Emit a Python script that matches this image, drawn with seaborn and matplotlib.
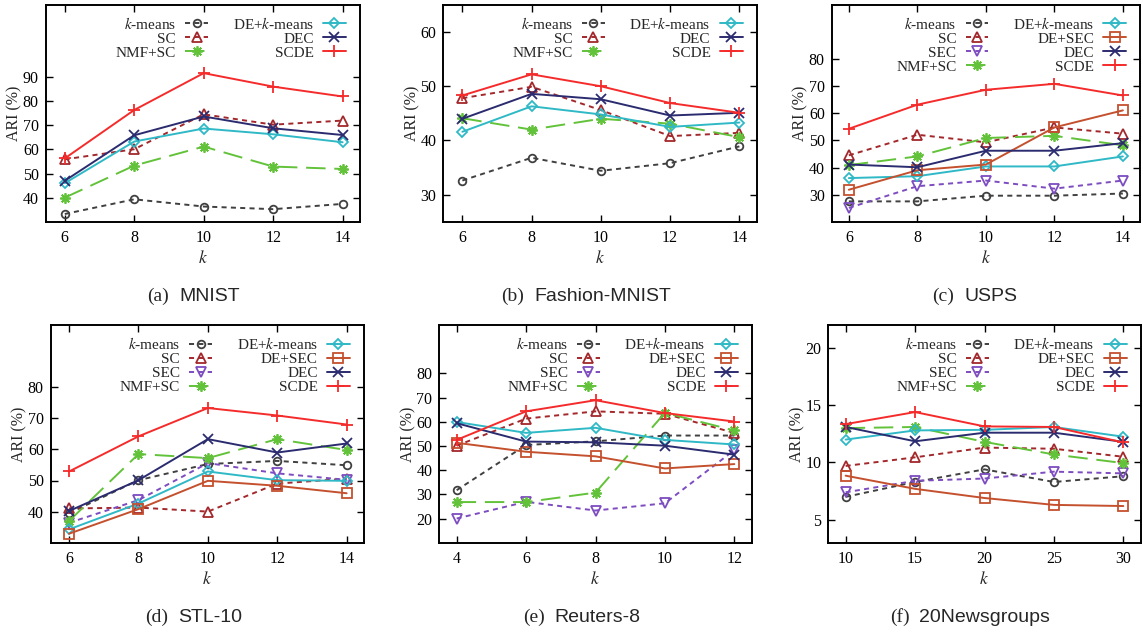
import matplotlib
matplotlib.use("Agg")
import matplotlib.pyplot as plt
import seaborn as sns
import pandas as pd

sns.set_style("ticks")
plt.rcParams["font.family"] = ["Liberation Serif", "DejaVu Serif"]
plt.rcParams["mathtext.fontset"] = "stix"

# ---------------- data ----------------
K_A = [6, 8, 10, 12, 14]
K_E = [4, 6, 8, 10, 12]
K_F = [10, 15, 20, 25, 30]

mnist_kmeans = [33.2, 39.3, 36.3, 35.2, 37.4]
mnist_sc = [55.9, 60.1, 74.6, 70.3, 72.0]
mnist_nmf = [40.0, 53.3, 61.2, 52.9, 51.9]
mnist_dekm = [46.0, 63.3, 68.7, 66.3, 63.0]
mnist_dec = [47.0, 65.9, 73.7, 68.8, 66.0]
mnist_scde = [56.3, 76.4, 91.7, 86.1, 82.0]

fashion_kmeans = [32.6, 36.8, 34.4, 35.8, 38.9]
fashion_sc = [47.8, 49.9, 45.6, 40.8, 41.4]
fashion_nmf = [44.1, 42.0, 44.0, 43.1, 40.6]
fashion_dekm = [41.6, 46.3, 44.8, 42.5, 43.3]
fashion_dec = [44.0, 48.6, 47.6, 44.6, 45.1]
fashion_scde = [48.3, 52.2, 50.0, 46.9, 45.1]

usps_kmeans = [27.5, 27.5, 29.6, 29.6, 30.4]
usps_sc = [44.5, 52.1, 49.3, 54.8, 52.5]
usps_sec = [25.1, 33.1, 35.2, 32.2, 35.2]
usps_nmf = [40.9, 44.1, 50.9, 51.7, 48.2]
usps_dekm = [36.1, 36.8, 40.4, 40.4, 44.1]
usps_desec = [31.8, 39.0, 41.1, 54.8, 61.1]
usps_dec = [41.1, 40.1, 46.2, 46.2, 49.0]
usps_scde = [54.3, 63.2, 68.7, 70.9, 66.6]

stl_kmeans = [39.5, 50.1, 55.3, 56.3, 54.9]
stl_sc = [41.0, 41.3, 40.0, 49.0, 50.6]
stl_sec = [36.4, 43.7, 55.6, 52.3, 50.2]
stl_nmf = [37.0, 58.5, 57.2, 63.3, 59.8]
stl_dekm = [34.3, 42.6, 52.9, 50.1, 49.9]
stl_desec = [32.9, 40.8, 49.9, 48.3, 45.9]
stl_dec = [40.2, 50.1, 63.3, 59.0, 61.9]
stl_scde = [52.9, 64.2, 73.3, 70.9, 68.0]

reuters_kmeans = [31.7, 50.4, 51.9, 54.3, 54.3]
reuters_sc = [50.1, 61.3, 64.3, 63.3, 55.4]
reuters_sec = [20.0, 26.9, 23.3, 26.3, 48.3]
reuters_nmf = [26.8, 26.8, 30.7, 63.7, 56.4]
reuters_dekm = [59.9, 55.4, 57.5, 52.5, 50.6]
reuters_desec = [51.3, 47.6, 45.7, 40.7, 42.5]
reuters_dec = [59.4, 51.8, 51.5, 50.1, 46.4]
reuters_scde = [52.5, 64.3, 68.9, 63.6, 60.1]

news_kmeans = [7.0, 8.3, 9.4, 8.3, 8.8]
news_sc = [9.7, 10.45, 11.3, 11.2, 10.5]
news_sec = [7.4, 8.4, 8.6, 9.2, 9.05]
news_nmf = [13.0, 13.1, 11.8, 10.7, 9.95]
news_dekm = [12.0, 12.8, 12.85, 13.1, 12.25]
news_desec = [8.85, 7.7, 6.9, 6.3, 6.2]
news_dec = [13.1, 11.85, 12.6, 12.6, 11.8]
news_scde = [13.35, 14.4, 13.15, 13.1, 11.75]

METHODS = ["kmeans", "sc", "sec", "nmf", "dekm", "desec", "dec", "scde"]
LABELS = {
    "kmeans": r"$k$-means", "sc": "SC", "sec": "SEC", "nmf": "NMF+SC",
    "dekm": r"DE+$k$-means", "desec": "DE+SEC", "dec": "DEC", "scde": "SCDE",
}

STYLE = {
    "kmeans": dict(color="#404040", marker="o", ls=(0, (2.6, 2.2)), ms=5.5),
    "sc": dict(color="#a3282c", marker="^", ls=(0, (2.6, 2.2)), ms=6.5),
    "sec": dict(color="#7d4cc0", marker="v", ls=(0, (2.6, 2.2)), ms=6.5),
    "nmf": dict(color="#62c23a", marker=(8, 2, 0), ls=(0, (10, 4.5)), ms=7.5),
    "dekm": dict(color="#2fb9c6", marker="D", ls="-", ms=5),
    "desec": dict(color="#c4502e", marker="s", ls="-", ms=6.5),
    "dec": dict(color="#2b2b70", marker="x", ls="-", ms=7),
    "scde": dict(color="#f52b2b", marker="+", ls="-", ms=9),
}

PANELS = [
    dict(px=(45.7, 5, 360, 221.7), k=K_A, xlim=(5.45, 14.5), ylim=(30, 120),
         yticks=[40, 50, 60, 70, 80, 90], cap=("(a)", "MNIST"), cx=193.5, cy=296,
         series={"kmeans": mnist_kmeans, "sc": mnist_sc, "nmf": mnist_nmf,
                 "dekm": mnist_dekm, "dec": mnist_dec, "scde": mnist_scde}),
    dict(px=(443.3, 5, 756.7, 221.7), k=K_A, xlim=(5.45, 14.5), ylim=(25, 65),
         yticks=[30, 40, 50, 60], cap=("(b)", "Fashion-MNIST"), cx=586.5, cy=296,
         series={"kmeans": fashion_kmeans, "sc": fashion_sc, "nmf": fashion_nmf,
                 "dekm": fashion_dekm, "dec": fashion_dec, "scde": fashion_scde}),
    dict(px=(831.7, 5, 1140, 221.7), k=K_A, xlim=(5.5, 14.5), ylim=(20, 100),
         yticks=[30, 40, 50, 60, 70, 80], cap=("(c)", "USPS"), cx=975, cy=296,
         series={"kmeans": usps_kmeans, "sc": usps_sc, "sec": usps_sec, "nmf": usps_nmf,
                 "dekm": usps_dekm, "desec": usps_desec, "dec": usps_dec, "scde": usps_scde}),
    dict(px=(50.7, 325, 364, 542.7), k=K_A, xlim=(5.47, 14.5), ylim=(30, 100),
         yticks=[40, 50, 60, 70, 80], cap=("(d)", "STL-10"), cx=193.7, cy=617,
         series={"kmeans": stl_kmeans, "sc": stl_sc, "sec": stl_sec, "nmf": stl_nmf,
                 "dekm": stl_dekm, "desec": stl_desec, "dec": stl_dec, "scde": stl_scde}),
    dict(px=(439.3, 325, 751.7, 542.7), k=K_E, xlim=(3.5, 12.5), ylim=(10, 100),
         yticks=[20, 30, 40, 50, 60, 70, 80], cap=("(e)", "Reuters-8"), cx=582, cy=617,
         series={"kmeans": reuters_kmeans, "sc": reuters_sc, "sec": reuters_sec, "nmf": reuters_nmf,
                 "dekm": reuters_dekm, "desec": reuters_desec, "dec": reuters_dec, "scde": reuters_scde}),
    dict(px=(828.3, 325, 1140.7, 542.7), k=K_F, xlim=(8.75, 31.25), ylim=(3, 22),
         yticks=[5, 10, 15, 20], cap=("(f)", "20Newsgroups"), cx=970, cy=617,
         series={"kmeans": news_kmeans, "sc": news_sc, "sec": news_sec, "nmf": news_nmf,
                 "dekm": news_dekm, "desec": news_desec, "dec": news_dec, "scde": news_scde}),
]

W, H = 1143, 632
fig = plt.figure(figsize=(W / 100, H / 100), dpi=100)

caption_pairs = []
for p in PANELS:
    l, t, r, b = p["px"]
    ax = fig.add_axes([l / W, 1 - b / H, (r - l) / W, (b - t) / H])
    for m in METHODS:
        if m not in p["series"]:
            continue
        st = STYLE[m]
        df = pd.DataFrame({"k": p["k"], "ARI": p["series"][m]})
        sns.lineplot(data=df, x="k", y="ARI", ax=ax, color=st["color"],
                     marker=st["marker"], linestyle=st["ls"], linewidth=1.4,
                     markersize=st["ms"], markerfacecolor="none",
                     markeredgecolor=st["color"], markeredgewidth=1.3,
                     label=LABELS[m])
    ax.set_xlim(*p["xlim"])
    ax.set_ylim(*p["ylim"])
    ax.set_xticks(p["k"])
    ax.set_yticks(p["yticks"])
    ax.tick_params(direction="in", length=5, width=1, top=True, right=True,
                   labelsize=11.5, colors="black")
    ax.tick_params(axis="x", pad=6)
    ax.tick_params(axis="y", pad=5)
    for s in ax.spines.values():
        s.set_linewidth(1.4)
        s.set_color("black")
    ax.set_xlabel(r"$k$", fontsize=12.5, labelpad=3)
    ax.set_ylabel("ARI (%)", fontsize=11.5, labelpad=0)
    ax.legend(loc="upper right", bbox_to_anchor=(0.955, 0.95), ncol=2,
              markerfirst=False, frameon=False, fontsize=11, borderpad=0,
              borderaxespad=0, handlelength=1.5, handletextpad=0.6,
              labelspacing=0.02, columnspacing=1.6)
    pre = fig.text(0, 1 - p["cy"] / H, p["cap"][0], fontsize=14,
                   family=["Liberation Serif"], va="center", ha="left")
    name = fig.text(0, 1 - p["cy"] / H, p["cap"][1], fontsize=14,
                    family=["Liberation Sans"], va="center", ha="left")
    caption_pairs.append((pre, name, p["cx"]))

fig.canvas.draw()
renderer = fig.canvas.get_renderer()
gap = 10
for pre, name, cx in caption_pairs:
    w1 = pre.get_window_extent(renderer).width
    w2 = name.get_window_extent(renderer).width
    x0 = cx - (w1 + gap + w2) / 2
    pre.set_x(x0 / W)
    name.set_x((x0 + w1 + gap) / W)

fig.savefig("out.png", dpi=100)
